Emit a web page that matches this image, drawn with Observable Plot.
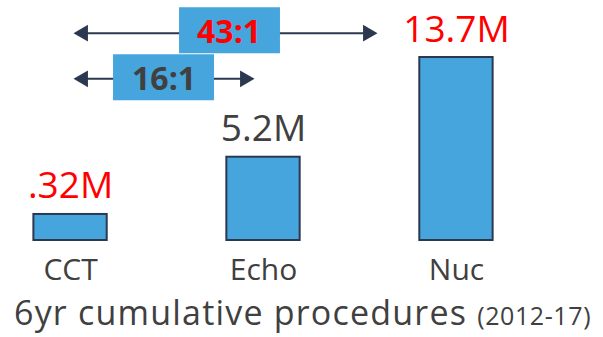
<!DOCTYPE html>
<html><head><meta charset="utf-8">
<script src="https://cdn.jsdelivr.net/npm/d3@7"></script>
<script src="https://cdn.jsdelivr.net/npm/@observablehq/plot@0.6"></script>
<style>
html,body{margin:0;padding:0;background:#fff;}
#wrap{position:relative;width:603px;height:337px;overflow:hidden;font-family:'Open Sans',sans-serif;}
#title{position:absolute;left:14px;top:295px;font-size:34px;line-height:34px;color:#404040;letter-spacing:1.2px;white-space:nowrap;}
#title span{font-size:25px;letter-spacing:0.6px;}
</style></head><body>
<div id="wrap"><div id="chart"></div><div id="title">6yr cumulative procedures <span>(2012-17)</span></div></div>
<script>
// ---- data ----
const categories = ["CCT", "Echo", "Nuc"];
const procedures = [0.32, 5.2, 13.7];            // millions, 2012-17 cumulative
const valueLabels = [".32M", "5.2M", "13.7M"];
const ratioLabels = ["43:1", "16:1"];
const ratioFrom = ["CCT", "CCT"];
const ratioTo = ["Nuc", "Echo"];

// ---- styles ----
const labelColors = ["#FF0000", "#404040", "#FF0000"];
const ratioColors = ["#FF0000", "#404040"];
const blue = "#45A5DC";
const navy = "#2B3850";
const gray = "#404040";

const data = categories.map((c, i) => ({cat: c, i, value: procedures[i], label: valueLabels[i], color: labelColors[i]}));
const idx = c => categories.indexOf(c);
const yMin = -1.9, yMax = 18.56;
const hw = 0.19;
const H = 292, MB = 52;
const mid = (H - MB) / 2;

// annotation layout (pixels)
const anno = [
  {shaftY: 32.7, boxY: 29.7, textY: 32.5, shaftIn: [9, 85], boxIn: [109, 176], textDx: 158.5, headDx: [12.6, -88.6]},
  {shaftY: 78.3, boxY: 76.7, textY: 79, shaftIn: [9, 15], boxIn: [43, 49], textDx: 93.5, headDx: [12.6, -18.6]}
];

function ratioMarks(k) {
  const d = [{from: idx(ratioFrom[k]), to: idx(ratioTo[k]), label: ratioLabels[k]}];
  const L = anno[k];
  return [
    Plot.ruleY(d, {y: null, x1: "from", x2: "to", stroke: navy, strokeWidth: 2, insetLeft: L.shaftIn[0], insetRight: L.shaftIn[1], dy: L.shaftY - mid}),
    Plot.ruleY(d, {y: null, x1: "from", x2: "to", stroke: blue, strokeWidth: 46, insetLeft: L.boxIn[0], insetRight: L.boxIn[1], dy: L.boxY - mid}),
    Plot.dot(d, {x: "from", frameAnchor: "top", dy: L.shaftY, dx: L.headDx[0], symbol: "triangle", r: 6.2, rotate: -90, fill: navy, stroke: "none"}),
    Plot.dot(d, {x: "to", frameAnchor: "top", dy: L.shaftY, dx: L.headDx[1], symbol: "triangle", r: 6.2, rotate: 90, fill: navy, stroke: "none"}),
    Plot.text(d, {x: "from", frameAnchor: "top", dy: L.textY, dx: L.textDx, text: "label", fill: ratioColors[k], fontWeight: "bold", fontSize: 32, lineAnchor: "middle", fontFamily: "'Open Sans', sans-serif"})
  ];
}

const chart = Plot.plot({
  width: 603, height: H,
  marginTop: 0, marginBottom: MB, marginLeft: 0, marginRight: 0,
  style: {fontFamily: "'Open Sans', sans-serif", color: gray, background: "#fff", overflow: "visible"},
  x: {domain: [-0.363, 2.762]},
  y: {domain: [yMin, yMax], axis: null},
  color: {type: "identity"},
  marks: [
    Plot.rectY(data, {x1: d => d.i - hw, x2: d => d.i + hw, y1: yMin, y2: "value", fill: blue, stroke: navy, strokeWidth: 2}),
    Plot.text(data, {x: "i", y: "value", text: "label", fill: "color", dy: -16, lineAnchor: "bottom", fontSize: 37}),
    Plot.axisX({ticks: [0, 1, 2], tickFormat: i => categories[i], tickSize: 0, tickPadding: 18, fontSize: 30}),
    ...ratioMarks(0),
    ...ratioMarks(1)
  ]
});
document.getElementById("chart").appendChild(chart);
</script>
</body></html>
